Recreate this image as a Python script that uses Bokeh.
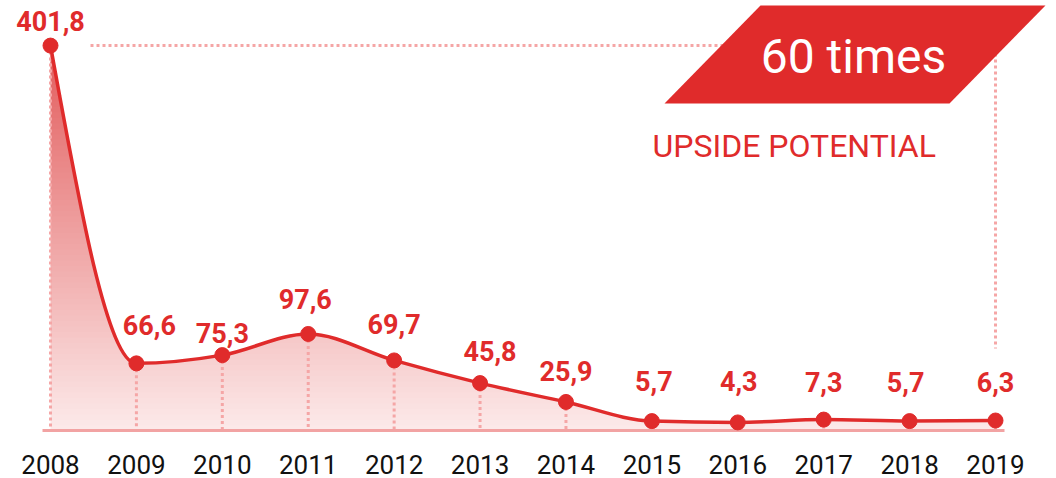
import numpy as np
from bokeh.plotting import figure
from bokeh.models import FixedTicker, Range1d, ColumnDataSource
from bokeh.embed import file_html
from bokeh.resources import INLINE
from bokeh.core.properties import value

# ---------------- data ----------------
years = [2008, 2009, 2010, 2011, 2012, 2013, 2014, 2015, 2016, 2017, 2018, 2019]
values = [401.8, 66.6, 75.3, 97.6, 69.7, 45.8, 25.9, 5.7, 4.3, 7.3, 5.7, 6.3]
value_labels = ["401,8", "66,6", "75,3", "97,6", "69,7", "45,8", "25,9",
                "5,7", "4,3", "7,3", "5,7", "6,3"]
year_labels = [str(y) for y in years]
headline = "60 times"
subtitle = "UPSIDE POTENTIAL"

# ---------------- styling ----------------
label_dx = [0, 13, 0, -3, 0, 10, 0, 2, 1, 0, -4, 0]
label_dy = [-25, -38, -22, -35, -36, -32, -31, -40, -41, -38, -39, -39]
RED = "#e02b2b"
DOT = "#f5a6a6"
AXIS = "#f2a3a3"
TOP_RGB = np.array([226, 92, 92])
BOT_RGB = np.array([252, 234, 234])
FONT = "Roboto"

W, H = 1056, 478
BORDER_BOTTOM = 46
kx = 85.91           # px per year
x_first_px = 50
ky = 0.948           # px per unit
zero_px = 426        # screen y of value 0

x_start = years[0] - x_first_px / kx
x_end = x_start + W / kx
frame_h = H - BORDER_BOTTOM
y_start = (zero_px - frame_h) / ky
y_end = zero_px / ky


def px2x(px):
    return x_start + px / kx


def py2y(py):
    return (zero_px - py) / ky


def monotone_tangents(x, y):
    x = np.asarray(x, float)
    y = np.asarray(y, float)
    h = np.diff(x)
    s = np.diff(y) / h
    n = len(x)
    t = np.zeros(n)
    for i in range(1, n - 1):
        s0, s1, h0, h1 = s[i - 1], s[i], h[i - 1], h[i]
        p = (s0 * h1 + s1 * h0) / (h0 + h1)
        t[i] = (np.sign(s0) + np.sign(s1)) * min(abs(s0), abs(s1), 0.5 * abs(p))
    t[0] = (3 * s[0] - t[1]) / 2
    t[-1] = (3 * s[-1] - t[-2]) / 2
    return t


xs = np.asarray(years, float)
ys = np.asarray(values, float)
tan = monotone_tangents(xs, ys)
hseg = np.diff(xs)
seg = dict(
    x0=xs[:-1], y0=ys[:-1], x1=xs[1:], y1=ys[1:],
    cx0=xs[:-1] + hseg / 3, cy0=ys[:-1] + hseg * tan[:-1] / 3,
    cx1=xs[1:] - hseg / 3, cy1=ys[1:] - hseg * tan[1:] / 3,
)

# sampled outline of the curve, for the gradient fill only
curve_x, curve_y = [], []
tt = np.linspace(0, 1, 40)
for i in range(len(xs) - 1):
    P = [(seg["x0"][i], seg["y0"][i]), (seg["cx0"][i], seg["cy0"][i]),
         (seg["cx1"][i], seg["cy1"][i]), (seg["x1"][i], seg["y1"][i])]
    b = [(1 - tt) ** 3, 3 * (1 - tt) ** 2 * tt, 3 * (1 - tt) * tt ** 2, tt ** 3]
    bx = sum(b[k] * P[k][0] for k in range(4))
    by = sum(b[k] * P[k][1] for k in range(4))
    if i > 0:
        bx, by = bx[1:], by[1:]
    curve_x.extend(bx)
    curve_y.extend(by)
curve_x = np.array(curve_x)
curve_y = np.array(curve_y)

p = figure(width=W, height=H, output_backend="svg", toolbar_location=None,
           x_range=Range1d(x_start, x_end), y_range=Range1d(y_start, y_end),
           min_border_left=0, min_border_right=0, min_border_top=0,
           min_border_bottom=BORDER_BOTTOM)
p.outline_line_color = None
p.grid.visible = False
p.yaxis.visible = False
p.background_fill_color = "white"

# gradient fill under curve (horizontal bands)
fill_bottom = py2y(430)
top = max(values)
n_bands = 70
edges = np.linspace(fill_bottom, top, n_bands + 1)
ov = 0.6
for j in range(n_bands):
    lo, hi = edges[j], edges[j + 1]
    f = 1 - ((lo + hi) / 2 - fill_bottom) / (top - fill_bottom)
    rgb = TOP_RGB + (BOT_RGB - TOP_RGB) * f
    col = "#%02x%02x%02x" % tuple(int(round(c)) for c in rgb)
    base = lo - ov if j > 0 else lo
    p.varea(x=curve_x, y1=np.full_like(curve_x, base),
            y2=np.clip(curve_y, base, hi),
            fill_color=col, fill_alpha=1.0)

# dotted guide lines
p.segment(x0=years, y0=values, x1=years, y1=[fill_bottom] * len(years),
          line_color=DOT, line_width=3, line_dash="3 3")
p.segment(x0=[px2x(90)], y0=[values[0]], x1=[years[-1]], y1=[values[0]],
          line_color=DOT, line_width=3, line_dash="3 3")
p.segment(x0=[years[-1]], y0=[py2y(53)], x1=[years[-1]], y1=[py2y(348)],
          line_color=DOT, line_width=3, line_dash="3 3")

# axis baseline
p.segment(x0=[px2x(42)], y0=[fill_bottom], x1=[px2x(1004)], y1=[fill_bottom],
          line_color=AXIS, line_width=3)

# curve
p.bezier(source=ColumnDataSource(seg), x0="x0", y0="y0", x1="x1", y1="y1",
         cx0="cx0", cy0="cy0", cx1="cx1", cy1="cy1",
         line_color=RED, line_width=3.5)
p.scatter(x=years, y=values, size=15, fill_color=RED, line_color=RED)

# value labels
lab_src = ColumnDataSource(dict(x=years, y=values, text=value_labels,
                                dx=label_dx, dy=label_dy))
p.text(x="x", y="y", text="text", x_offset="dx", y_offset="dy", source=lab_src,
       text_font=value(FONT), text_font_style="bold", text_font_size="27px",
       text_color=RED, text_align="center", text_baseline="middle")

# banner
bx_px = [760, 1045, 949, 664]
by_px = [5, 5, 103, 103]
p.patch(x=[px2x(v) for v in bx_px], y=[py2y(v) for v in by_px],
        fill_color=RED, line_color=None)
p.text(x=[px2x(853)], y=[py2y(56)], text=[headline], text_font=value(FONT),
       text_font_size="48px", text_color="white", text_align="center",
       text_baseline="middle")
p.text(x=[px2x(652)], y=[py2y(145)], text=[subtitle], text_font=value(FONT),
       text_font_size="32px", text_color=RED, text_align="left",
       text_baseline="middle")

# x axis (year labels)
xa = p.xaxis[0]
xa.ticker = FixedTicker(ticks=years)
xa.major_label_overrides = {y: s for y, s in zip(years, year_labels)}
xa.axis_line_color = None
xa.major_tick_line_color = None
xa.minor_tick_line_color = None
xa.major_label_standoff = 16
xa.major_label_text_font = FONT
xa.major_label_text_font_size = "26px"
xa.major_label_text_color = "#111111"

open("out.html", "w").write(file_html(p, INLINE))
